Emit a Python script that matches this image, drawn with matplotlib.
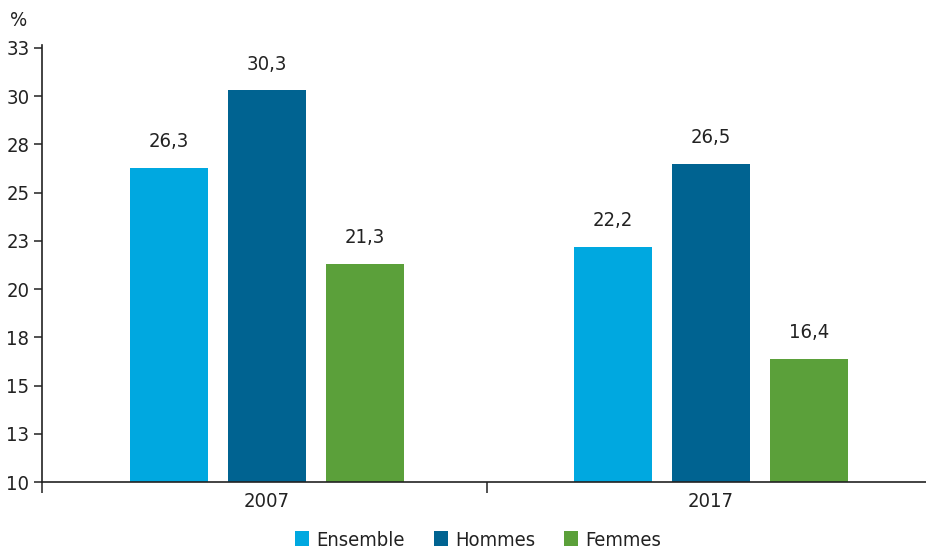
import matplotlib
matplotlib.use("Agg")
import matplotlib.pyplot as plt
from matplotlib.patches import Patch
import numpy as np

categories = ["2007", "2017"]
series_names = ["Ensemble", "Hommes", "Femmes"]
ensemble = [26.3, 22.2]
hommes = [30.3, 26.5]
femmes = [21.3, 16.4]
ytick_values = [10, 12.5, 15, 17.5, 20, 22.5, 25, 27.5, 30, 32.5]
ytick_labels = ["10", "13", "15", "18", "20", "23", "25", "28", "30", "33"]

colors = ["#00A8E0", "#006391", "#5BA03A"]
plt.rcParams['font.family'] = ['DejaVu Sans']
plt.rcParams['font.stretch'] = 'condensed'
txt = "#222222"
fs = 14.5

fig = plt.figure(figsize=(9.26, 5.5), dpi=100)
ax = fig.add_axes([42/926, 1 - 482/550, 884/926, (482-45)/550])

x = np.arange(len(categories))
width = 0.1757
step = 0.2207
for i, (vals, c, name) in enumerate(zip([ensemble, hommes, femmes], colors, series_names)):
    pos = x + (i - 1) * step
    ax.bar(pos, vals, width=width, color=c, label=name, zorder=2)
    for p, v in zip(pos, vals):
        ax.annotate(f"{v:.1f}".replace(".", ","), (p, v), xytext=(0, 12),
                    textcoords="offset points", ha="center", va="bottom",
                    fontsize=fs, color=txt)

ax.set_xlim(-0.5068, 1.4842)
ax.set_ylim(10, 32.65)
ax.set_yticks(ytick_values)
ax.set_yticklabels(ytick_labels)
ax.set_xticks([-0.5068, 0.4955])
ax.set_xticklabels([])
ax.set_xticks(x, minor=True)
ax.set_xticklabels(categories, minor=True)
ax.tick_params(axis="x", which="major", length=8, width=1.2, color="#333333", direction="out")
ax.tick_params(axis="x", which="minor", length=0, pad=7, labelsize=fs, labelcolor=txt)
ax.tick_params(axis="y", length=6, width=1.2, color="#333333", labelsize=fs, labelcolor=txt, pad=3)
for s in ["top", "right"]:
    ax.spines[s].set_visible(False)
for s in ["left", "bottom"]:
    ax.spines[s].set_color("#222222")
    ax.spines[s].set_linewidth(1.2)

fig.text(10/926, 1 - 20/550, "%", fontsize=fs, color=txt, va="center", ha="left")

handles = [Patch(facecolor=c, label=n) for c, n in zip(colors, series_names)]
fig.legend(handles=handles, loc="center", bbox_to_anchor=(478/926, 1 - 540/550), ncol=3,
           frameon=False, fontsize=fs, handlelength=0.7, handleheight=0.7,
           handletextpad=0.35, columnspacing=1.45, labelcolor=txt)

fig.savefig("out.png", dpi=100)
